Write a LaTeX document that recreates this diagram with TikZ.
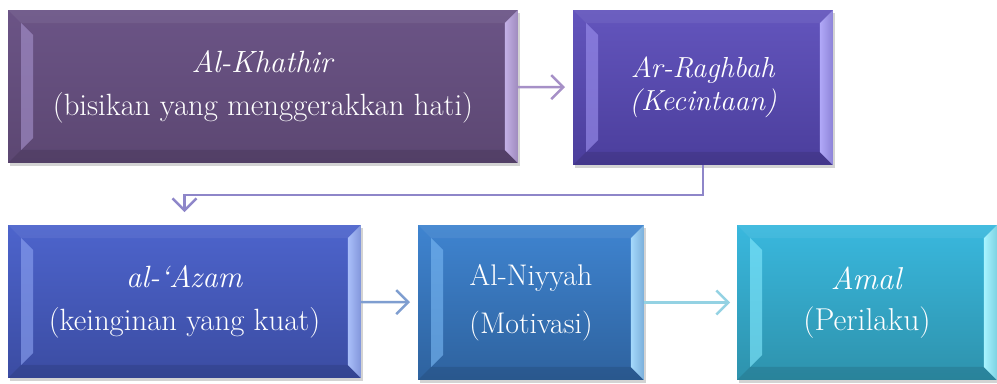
\documentclass[tikz,border=0pt]{standalone}
\usetikzlibrary{arrows.meta,shadows}

\definecolor{khathirtop}{HTML}{6B5486}
\definecolor{khathirbot}{HTML}{5C4772}
\definecolor{khathirl}{HTML}{9D89C2}
\definecolor{khathirr}{HTML}{C3B0E6}
\definecolor{raghbahtop}{HTML}{6355BD}
\definecolor{raghbahbot}{HTML}{4B3E9C}
\definecolor{raghbahl}{HTML}{9387E6}
\definecolor{raghbahr}{HTML}{B0A8F7}
\definecolor{azamtop}{HTML}{4D64CC}
\definecolor{azambot}{HTML}{3B4CA2}
\definecolor{azaml}{HTML}{8399EA}
\definecolor{azamr}{HTML}{A9BEF9}
\definecolor{niyyahtop}{HTML}{3F84D0}
\definecolor{niyyahbot}{HTML}{2E629E}
\definecolor{niyyahl}{HTML}{70AFEC}
\definecolor{niyyahr}{HTML}{A4D8FB}
\definecolor{amaltop}{HTML}{39B8DE}
\definecolor{amalbot}{HTML}{2E92AC}
\definecolor{amall}{HTML}{78E0F6}
\definecolor{amalr}{HTML}{A8F4FF}
\definecolor{arrowa}{HTML}{A690C7}
\definecolor{arrowb}{HTML}{8E86C9}
\definecolor{arrowc}{HTML}{7F9ED0}
\definecolor{arrowd}{HTML}{94D2E3}

\newlength{\bo}
\newlength{\bi}
\setlength{\bo}{0.26cm}
\setlength{\bi}{0.5cm}

% bevelled box: top colour, bottom colour, left strip, right strip
\tikzset{
    stage/.style n args={4}{
        inner sep=0pt, outer sep=0pt, text=white, align=center,
        font=\fontsize{17.5}{24.5}\selectfont,
        top color=#1, bottom color=#2,
        drop shadow={shadow xshift=1.2pt, shadow yshift=-1.5pt, opacity=.35},
        path picture={
            \fill[white, opacity=.06] (path picture bounding box.north west)
                -- ([xshift=\bo,yshift=-\bo]path picture bounding box.north west)
                -- ([xshift=-\bo,yshift=-\bo]path picture bounding box.north east)
                -- (path picture bounding box.north east) -- cycle;
            \fill[black, opacity=.10] (path picture bounding box.south west)
                -- ([xshift=\bo,yshift=\bo]path picture bounding box.south west)
                -- ([xshift=-\bo,yshift=\bo]path picture bounding box.south east)
                -- (path picture bounding box.south east) -- cycle;
            \shade[top color=#3!70!#1, middle color=#3, bottom color=#3!70!#2]
                ([xshift=\bo,yshift=-\bo]path picture bounding box.north west)
                -- ([xshift=\bi,yshift=-\bi]path picture bounding box.north west)
                -- ([xshift=\bi,yshift=\bi]path picture bounding box.south west)
                -- ([xshift=\bo,yshift=\bo]path picture bounding box.south west) -- cycle;
            \shade[left color=#4, right color=#4!65!#2]
                (path picture bounding box.north east)
                -- ([xshift=-\bo,yshift=-\bo]path picture bounding box.north east)
                -- ([xshift=-\bo,yshift=\bo]path picture bounding box.south east)
                -- (path picture bounding box.south east) -- cycle;
        }
    },
    flow/.style={line width=1.4pt, -{Straight Barb[length=2.4mm, width=4.8mm, line width=1.4pt]}}
}

\begin{document}
\begin{tikzpicture}[x=0.02cm, y=-0.02cm]

    \useasboundingbox (0,0) rectangle (997,383);

    \node[stage={khathirtop}{khathirbot}{khathirl}{khathirr},
          minimum width=10.2cm, minimum height=3.06cm]
        (khathir) at (263,86.5)
        {\textit{Al-Khathir}\\(bisikan yang menggerakkan hati)};

    \node[stage={raghbahtop}{raghbahbot}{raghbahl}{raghbahr},
          minimum width=5.2cm, minimum height=3.1cm,
          font=\fontsize{16.5}{19}\selectfont]
        (raghbah) at (703,87.5)
        {\textit{Ar-Raghbah}\\\textit{(Kecintaan)}};

    \node[stage={azamtop}{azambot}{azaml}{azamr},
          minimum width=7.06cm, minimum height=3.06cm]
        (azam) at (184.5,301.5)
        {\textit{al-`Azam}\\(keinginan yang kuat)};

    \node[stage={niyyahtop}{niyyahbot}{niyyahl}{niyyahr},
          minimum width=4.52cm, minimum height=3.1cm,
          font=\fontsize{17}{27}\selectfont]
        (niyyah) at (531,302.5)
        {Al-Niyyah\\(Motivasi)};

    \node[stage={amaltop}{amalbot}{amall}{amalr},
          minimum width=5.2cm, minimum height=3.1cm,
          font=\fontsize{18}{23.5}\selectfont]
        (amal) at (867,302.5)
        {\textit{Amal}\\(Perilaku)};

    % connectors
    \draw[flow, arrowa, shorten >=0.16cm] (khathir) -- (raghbah);
    \draw[flow, arrowb, shorten >=0.26cm] (raghbah.south) -- ++(0,30) -| (azam.north);
    \draw[flow, arrowc, shorten >=0.16cm] (azam) -- (niyyah);
    \draw[flow, arrowd, shorten >=0.14cm] (niyyah) -- (amal);

\end{tikzpicture}
\end{document}
